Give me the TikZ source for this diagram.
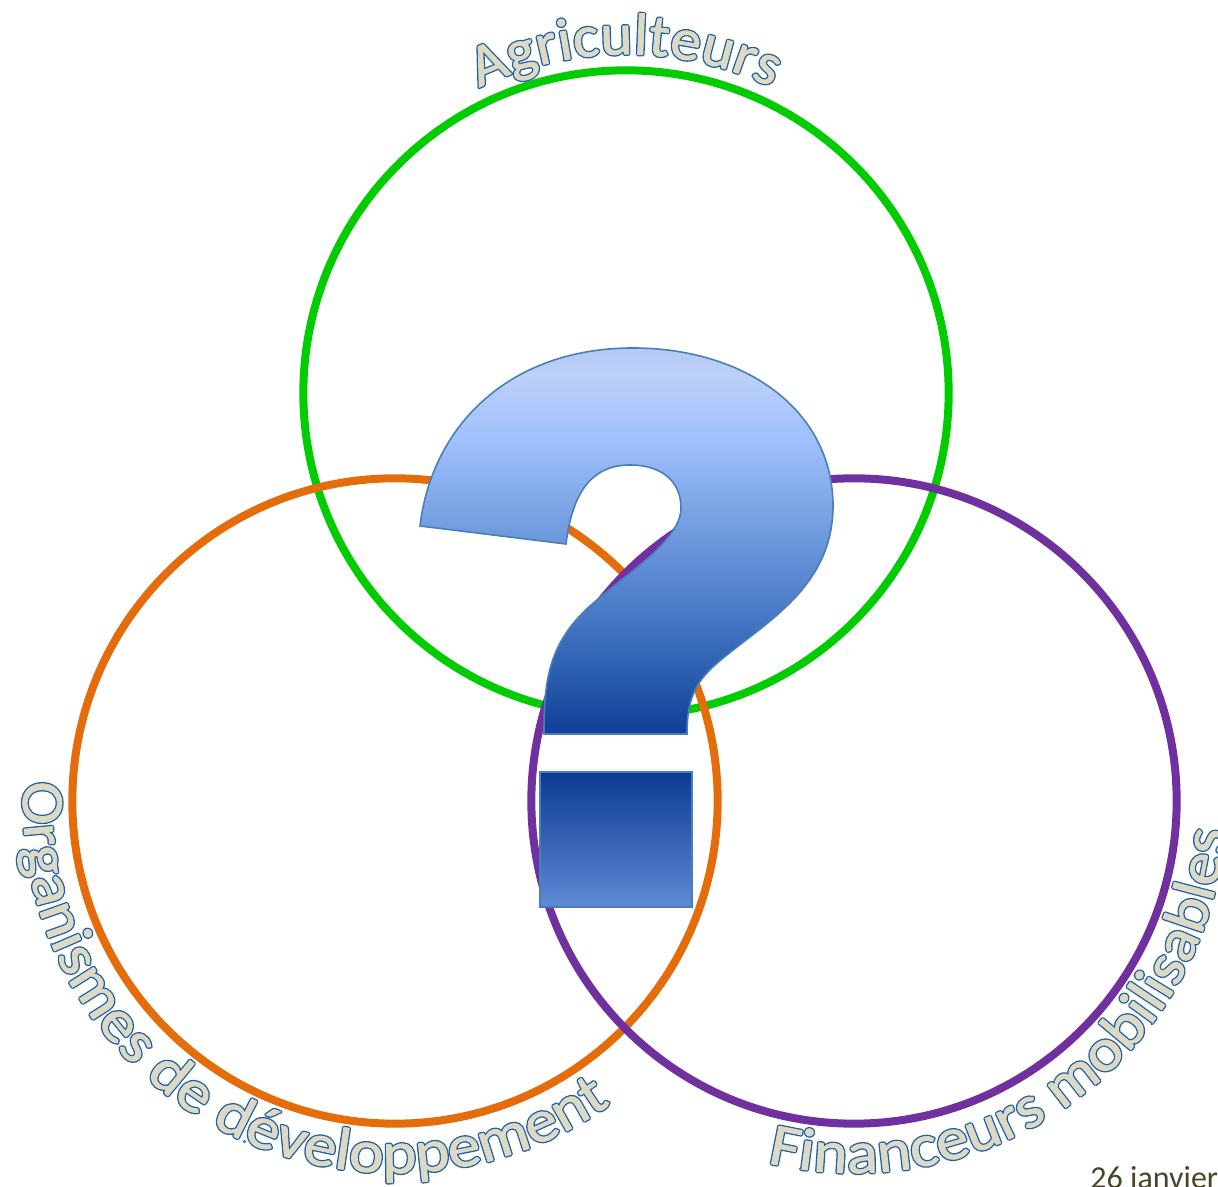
\documentclass[tikz,border=0pt]{standalone}
\usepackage{fontspec}
\usetikzlibrary{decorations.text,calc}
\setmainfont{Carlito}
\newfontface\fillA{Carlito}[FakeStretch=1.03]
\newfontface\fillB{Carlito}[FakeStretch=1.09]
\definecolor{cgreen}{HTML}{00CC00}
\definecolor{corange}{HTML}{E46C0A}
\definecolor{cpurple}{HTML}{7030A0}
\definecolor{wafill}{HTML}{DDD9C3}
\definecolor{waline}{HTML}{1F5FA8}
\definecolor{qline}{HTML}{4A7EBB}
\definecolor{datecol}{HTML}{4A452A}
\definecolor{qa}{HTML}{0F3F96}
\definecolor{qb}{HTML}{3164B5}
\definecolor{qc}{HTML}{4F7ECB}
\definecolor{qd}{HTML}{75A0E2}
\definecolor{qe}{HTML}{9FC0FC}
\definecolor{qf}{HTML}{BCD0F8}
\definecolor{qg}{HTML}{B2CAF5}
\definecolor{dottop}{HTML}{0B3A91}
\definecolor{dotbot}{HTML}{5F8AD6}
\pgfdeclareverticalshading{qmark}{100bp}{
  color(0bp)=(qa); color(25bp)=(qa); color(34.6bp)=(qb); color(42.3bp)=(qc);
  color(52.7bp)=(qd); color(63bp)=(qe); color(71.5bp)=(qf); color(75bp)=(qg); color(100bp)=(qg)}
\tikzset{
  ring/.style={circle,draw,line width=6pt,minimum size=484pt,inner sep=0pt,outer sep=0pt},
  qshape/.style={draw=qline,line width=1.2pt,line join=miter},
}
% #1 centre, #2 start angle, #3 end angle, #4 radius, #5 text, #6 font suffix, #7 size
\newcommand{\curvedlabel}[7]{%
  \path[decorate,decoration={text along path,text align={fit to path},
    text={|\color{waline}\special{pdf:code 2 Tr 2.6 w 1 j 1 J}\csname fill#6\endcsname\fontsize{#7}{#7}\selectfont|#5}}]
    (#1) ++(#2:#4) arc[start angle=#2,end angle=#3,radius=#4];
  \path[decorate,decoration={text along path,text align={fit to path},
    text={|\color{wafill}\special{pdf:code 2 Tr 0.6 w 1 j 1 J}\csname fill#6\endcsname\fontsize{#7}{#7}\selectfont|#5}}]
    (#1) ++(#2:#4) arc[start angle=#2,end angle=#3,radius=#4];
}
\begin{document}
\begin{tikzpicture}[x=.75pt,y=.75pt]
\useasboundingbox (0,0) rectangle (1218,1186);
\clip (0,0) rectangle (1218,1186);
\coordinate (cg) at (626,793);
\coordinate (co) at (395,385);
\coordinate (cp) at (854,385);
\node[ring,draw=cgreen] (ringg) at (cg) {};
\node[ring,draw=corange] (ringo) at (co) {};
\node[ring,draw=cpurple] (ringp) at (cp) {};

\curvedlabel{626,793}{115.7}{64.5}{254pt}{Agriculteurs}{A}{44.5pt}
\curvedlabel{395,385}{177}{305.5}{279pt}{Organismes de développement}{B}{45pt}
\curvedlabel{854,385}{256.5}{355.5}{279pt}{Financeurs mobilisables}{B}{45pt}

\path[qshape,shading=qmark]
  (420,660) .. controls (432,761) and (510,838) .. (633,838)
  .. controls (745,838) and (833,776) .. (833,680)
  .. controls (833,596) and (760,561) .. (715,521)
  .. controls (695,503) and (687,486) .. (687,452)
  -- (544,452)
  .. controls (544,506) and (548,546) .. (597,586)
  .. controls (625,611) and (681,646) .. (681,678)
  .. controls (681,706) and (660,721) .. (630,721)
  .. controls (590,721) and (572,691) .. (566,642)
  -- cycle;
\node[qshape,rectangle,inner sep=0pt,anchor=north west,minimum width=114pt,minimum height=101.25pt,
  top color=dottop,bottom color=dotbot] (dot) at (539,415) {};
\node[anchor=base west,inner sep=0pt,text=datecol,font=\fontsize{24pt}{24pt}\selectfont] (date) at (1090,-2.5) {\special{pdf:code 0 Tr 1 w}26 janvier};
\end{tikzpicture}
\end{document}
